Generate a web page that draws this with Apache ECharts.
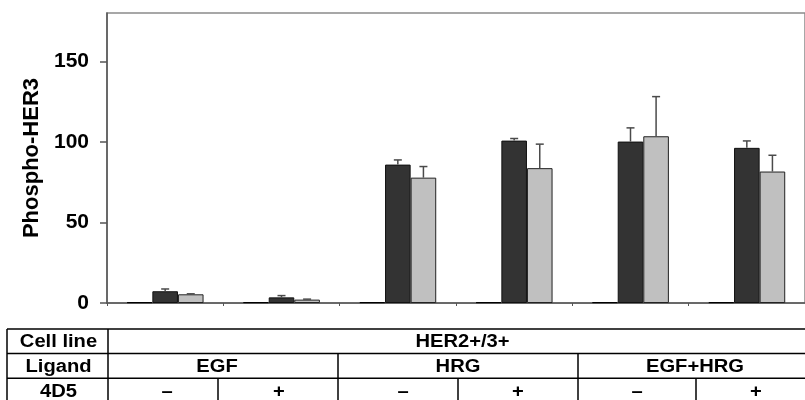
<!DOCTYPE html>
<html>
<head>
<meta charset="utf-8">
<script src="https://cdn.jsdelivr.net/npm/echarts@6/dist/echarts.min.js"></script>
<style>
  html, body { margin: 0; padding: 0; background: #fff; }
  #chart { width: 805px; height: 400px; }
</style>
</head>
<body>
<div id="chart"></div>
<script>
// ---- data ----
const categories = ['EGF −', 'EGF +', 'HRG −', 'HRG +', 'EGF+HRG −', 'EGF+HRG +'];
const controlValues = [0.5, 0.5, 0.5, 0.5, 0.5, 0.5];
const darkValues = [7.3, 3.5, 85.9, 100.8, 100.2, 96.3];
const darkErrors = [1.4, 1.1, 2.9, 1.3, 8.5, 4.3];
const lightValues = [5.4, 2.1, 77.8, 83.7, 103.5, 81.6];
const lightErrors = [0.3, 0.3, 6.9, 14.9, 24.6, 10.1];
const yTicks = [0, 50, 100, 150];
const yAxisTitle = 'Phospho-HER3';
const rowHeaders = ['Cell line', 'Ligand', '4D5'];
const cellLine = 'HER2+/3+';
const ligands = ['EGF', 'HRG', 'EGF+HRG'];
const antibody = ['–', '+', '–', '+', '–', '+'];

const GAP = 0.34;
const chart = echarts.init(document.getElementById('chart'), null, { renderer: 'canvas' });

function errorSeries(values, errors, offset) {
  return {
    type: 'custom',
    z: 5,
    data: values.map((v, i) => [i, v, errors[i]]),
    renderItem: function (params, api) {
      const x = api.value(0), v = api.value(1), e = api.value(2);
      const bw = api.size([1, 0])[0];
      const barW = bw * (1 - GAP) / 3;
      const p0 = api.coord([x, v]);
      const p1 = api.coord([x, v + e]);
      const cx = p0[0] + offset * barW;
      const st = { stroke: '#4a4a4a', lineWidth: 1.5 };
      return {
        type: 'group',
        children: [
          { type: 'line', shape: { x1: cx, y1: p0[1], x2: cx, y2: p1[1] }, style: st },
          { type: 'line', shape: { x1: cx - 4, y1: p1[1], x2: cx + 4, y2: p1[1] }, style: st }
        ]
      };
    }
  };
}

// table layout
const rowY = [329, 353.5, 378.3, 403];
const colX = { left: 7, head: 108, right: 817 };
const ligandCols = [108, 338, 578, 817];
const signCols = [108, 218, 338, 458, 578, 696, 817];
const ligandCenters = [217, 458, 695];
const signCenters = [167, 279, 403, 518, 637, 756];
const tableFont = 'bold 18px "Liberation Sans", Arial, sans-serif';

const graphics = [];
function hline(y, x1, x2) {
  graphics.push({ type: 'line', shape: { x1: x1, y1: y, x2: x2, y2: y }, style: { stroke: '#000', lineWidth: 1.5 } });
}
function vline(x, y1, y2) {
  graphics.push({ type: 'line', shape: { x1: x, y1: y1, x2: x, y2: y2 }, style: { stroke: '#000', lineWidth: 1.5 } });
}
function txt(s, x, y) {
  graphics.push({ type: 'text', x: x, y: y, scaleX: 1.12, style: { text: s, font: tableFont, fill: '#000', align: 'center', verticalAlign: 'middle' } });
}
rowY.forEach(y => hline(y, colX.left, colX.right));
vline(colX.left, rowY[0], rowY[3]);
vline(colX.head, rowY[0], rowY[3]);
ligandCols.slice(1, -1).forEach(x => vline(x, rowY[1], rowY[3]));
signCols.slice(1, -1).forEach(x => { if (ligandCols.indexOf(x) < 0) vline(x, rowY[2], rowY[3]); });
rowHeaders.forEach((h, i) => txt(h, 58.5, (rowY[i] + rowY[i + 1]) / 2 + 1));
txt(cellLine, 462.5, (rowY[0] + rowY[1]) / 2 + 1);
ligands.forEach((l, i) => txt(l, ligandCenters[i], (rowY[1] + rowY[2]) / 2 + 1));
antibody.forEach((s, i) => txt(s, signCenters[i], (rowY[2] + rowY[3]) / 2 + 1));

const option = {
  animation: false,
  backgroundColor: '#fff',
  textStyle: { fontFamily: '"Liberation Sans", Arial, sans-serif' },
  grid: { left: 107, right: -7, top: 13, bottom: 97, show: true, borderColor: '#8a8a8a', borderWidth: 1.5, backgroundColor: 'transparent' },
  xAxis: {
    type: 'category',
    data: categories,
    axisLine: { lineStyle: { color: '#555', width: 1.5 } },
    axisTick: { show: true, length: 3, interval: 0, lineStyle: { color: '#555' } },
    axisLabel: { show: false },
    splitLine: { show: false }
  },
  yAxis: {
    type: 'value',
    min: 0, max: 180, interval: 50,
    name: yAxisTitle,
    nameLocation: 'middle',
    nameGap: 62,
    nameRotate: 90,
    nameTextStyle: { fontSize: 22, fontWeight: 'bold', color: '#000', fontFamily: '"Liberation Sans", Arial, sans-serif' },
    axisLine: { show: true, lineStyle: { color: '#555', width: 1.5 } },
    axisTick: { show: true, length: 7, customValues: yTicks, lineStyle: { color: '#555', width: 1.5 } },
    axisLabel: { customValues: yTicks, fontSize: 21, fontWeight: 'bold', color: '#000', margin: 18, fontFamily: '"Liberation Sans", Arial, sans-serif' },
    splitLine: { show: false }
  },
  series: [
    { type: 'bar', data: controlValues, barGap: '0%', barCategoryGap: (GAP * 100) + '%', itemStyle: { color: '#111', borderColor: '#000', borderWidth: 1 } },
    { type: 'bar', data: darkValues, barGap: '0%', barCategoryGap: (GAP * 100) + '%', itemStyle: { color: '#333333', borderColor: '#111', borderWidth: 1 } },
    { type: 'bar', data: lightValues, barGap: '0%', barCategoryGap: (GAP * 100) + '%', itemStyle: { color: '#c0c0c0', borderColor: '#222', borderWidth: 1 } },
    errorSeries(darkValues, darkErrors, 0),
    errorSeries(lightValues, lightErrors, 1)
  ],
  graphic: graphics
};
chart.setOption(option);
</script>
</body>
</html>
